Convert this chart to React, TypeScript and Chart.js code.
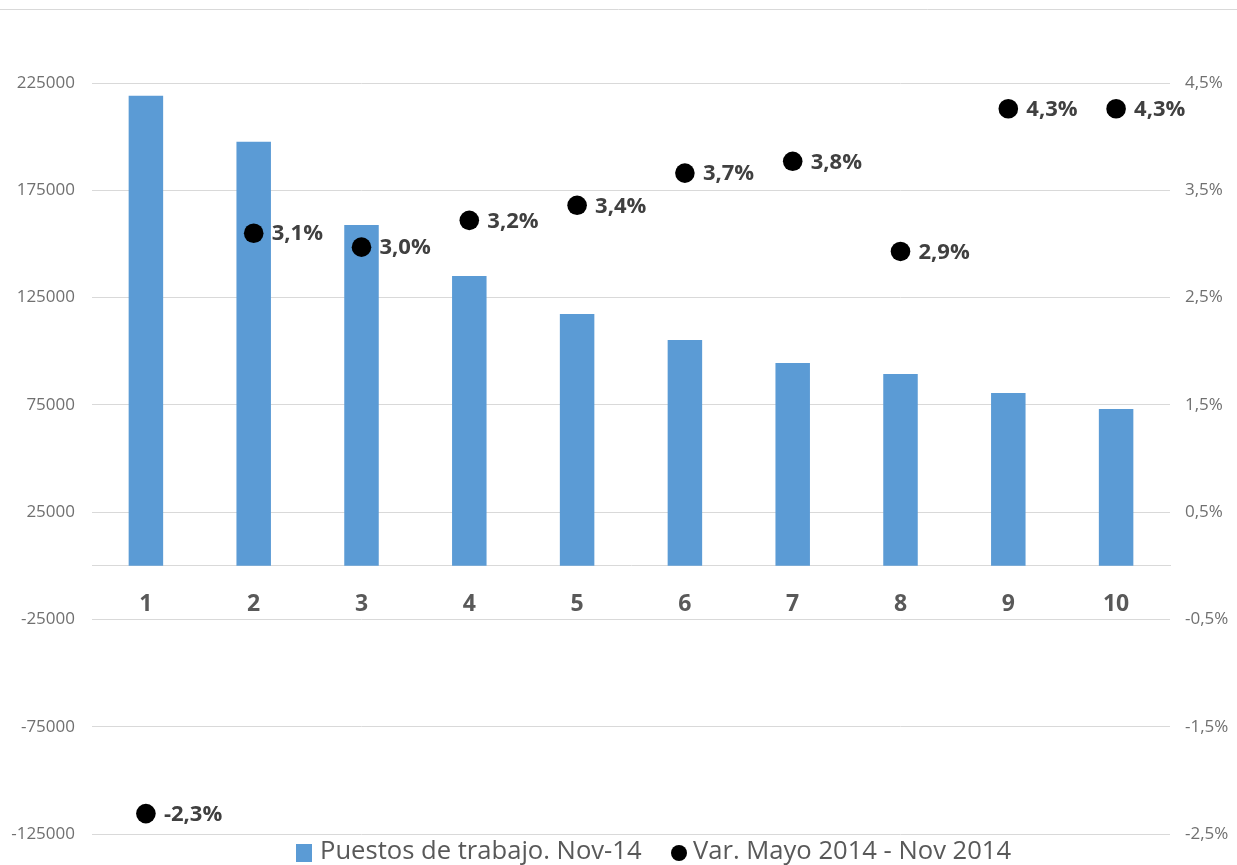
import { useEffect, useRef } from 'react';
import { Chart, registerables } from 'chart.js';

Chart.register(...registerables);

// ---- data ----
const categories = ['1', '2', '3', '4', '5', '6', '7', '8', '9', '10'];
const puestosNov14 = [219000, 197600, 158800, 135000, 117300, 105200, 94500, 89400, 80500, 73100];
const varMayoNov = [-2.31, 3.1, 2.97, 3.22, 3.36, 3.66, 3.77, 2.93, 4.26, 4.26];
const seriesNames = ['Puestos de trabajo. Nov-14', 'Var. Mayo 2014 - Nov 2014'];
const leftMin = -125000;
const leftMax = 225000;
const leftStep = 50000;
const rightMin = -2.5;
const rightMax = 4.5;
const rightStep = 1;

const FONT = "'Open Sans', 'DejaVu Sans', sans-serif";
const BAR_COLOR = '#5b9bd5';
const GRID = '#d9d9d9';

const fmtPct = (v: number) => v.toFixed(1).replace('.', ',') + '%';

const decorPlugin = {
  id: 'decor',
  beforeDraw(chart: any) {
    const ctx = chart.ctx;
    ctx.save();
    ctx.strokeStyle = GRID;
    ctx.lineWidth = 1;
    ctx.beginPath();
    ctx.moveTo(0, 9.5);
    ctx.lineTo(chart.width, 9.5);
    ctx.stroke();
    ctx.restore();
  },
  afterDatasetsDraw(chart: any) {
    const ctx = chart.ctx;
    const meta = chart.getDatasetMeta(1);
    const data = chart.data.datasets[1].data as number[];
    ctx.save();
    ctx.font = `bold 22px ${FONT}`;
    ctx.fillStyle = '#404040';
    ctx.textAlign = 'left';
    ctx.textBaseline = 'middle';
    meta.data.forEach((el: any, i: number) => {
      ctx.fillText(fmtPct(data[i]), el.x + 18, el.y + 1);
    });
    ctx.restore();
  },
  afterDraw(chart: any) {
    const ctx = chart.ctx;
    const ds = chart.data.datasets;
    const y = 852;
    ctx.save();
    ctx.font = `25.6px ${FONT}`;
    ctx.textBaseline = 'middle';
    ctx.textAlign = 'left';
    // item 1: square
    ctx.fillStyle = ds[0].backgroundColor;
    ctx.fillRect(296, 844, 16, 18);
    ctx.fillStyle = '#595959';
    ctx.fillText(ds[0].label, 320, y);
    // item 2: circle
    ctx.fillStyle = '#000000';
    ctx.beginPath();
    ctx.arc(679, 853, 8, 0, Math.PI * 2);
    ctx.fill();
    ctx.fillStyle = '#595959';
    ctx.fillText(ds[1].label, 693, y);
    ctx.restore();
  },
};

export default function App() {
  const canvasRef = useRef<HTMLCanvasElement | null>(null);

  useEffect(() => {
    const canvas = canvasRef.current;
    if (!canvas) return;
    const chart = new Chart(canvas, {
      data: {
        labels: categories,
        datasets: [
          {
            type: 'bar',
            label: seriesNames[0],
            data: puestosNov14,
            backgroundColor: BAR_COLOR,
            yAxisID: 'y',
            barPercentage: 0.32,
            categoryPercentage: 1,
            order: 2,
          },
          {
            type: 'line',
            label: seriesNames[1],
            data: varMayoNov,
            yAxisID: 'y1',
            showLine: false,
            pointRadius: 9.8,
            pointBackgroundColor: '#000000',
            pointBorderWidth: 0,
            borderColor: '#000000',
            backgroundColor: '#000000',
            order: 1,
          },
        ],
      } as any,
      options: {
        responsive: false,
        animation: false,
        devicePixelRatio: 1,
        layout: { padding: { top: 83, bottom: 31, left: 0, right: 0 } },
        plugins: { legend: { display: false }, tooltip: { enabled: false } },
        scales: {
          x: {
            position: { y: 0 },
            offset: true,
            grid: { display: false, drawTicks: false },
            border: { display: true, color: GRID, width: 1 },
            ticks: {
              padding: 25,
              color: '#595959',
              font: { family: FONT, size: 23, weight: 'bold' },
              maxRotation: 0,
              autoSkip: false,
            },
          },
          y: {
            position: 'left',
            min: leftMin,
            max: leftMax,
            ticks: {
              stepSize: leftStep,
              padding: 17,
              color: '#707070',
              font: { family: FONT, size: 17 },
              callback: (v: any) => String(v),
            },
            grid: { color: GRID, drawTicks: false, lineWidth: 1 },
            border: { display: false },
            afterFit: (s: any) => {
              s.width = 92;
            },
          },
          y1: {
            position: 'right',
            min: rightMin,
            max: rightMax,
            ticks: {
              stepSize: rightStep,
              padding: 15,
              color: '#707070',
              font: { family: FONT, size: 17 },
              callback: (v: any) => fmtPct(Number(v)),
            },
            grid: { display: false, drawTicks: false },
            border: { display: false },
            afterFit: (s: any) => {
              s.width = 67;
            },
          },
        },
      } as any,
      plugins: [decorPlugin],
    });
    return () => chart.destroy();
  }, []);

  return (
    <div style={{ position: 'absolute', left: 0, top: 0, width: 1237, height: 865, background: '#ffffff' }}>
      <canvas ref={canvasRef} width={1237} height={865} style={{ display: 'block', width: 1237, height: 865 }} />
    </div>
  );
}
